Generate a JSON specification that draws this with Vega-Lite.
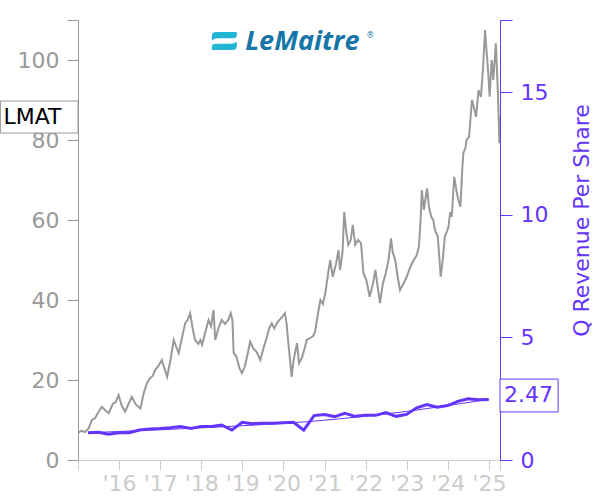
{
  "$schema": "https://vega.github.io/schema/vega-lite/v6.json",
  "width": 422,
  "height": 440,
  "autosize": {"type": "none"},
  "padding": {"left": 78, "top": 20, "right": 100, "bottom": 40},
  "background": "white",
  "config": {
    "view": {"stroke": null},
    "axis": {"grid": false, "labelFont": "DejaVu Sans", "titleFont": "DejaVu Sans", "labelFontSize": 22},
    "text": {"font": "DejaVu Sans"}
  },
  "datasets": {
    "price": [
      {"date": "2015-01-02", "p": 6.8}, {"date": "2015-01-30", "p": 7.3}, {"date": "2015-03-04", "p": 7.0}, {"date": "2015-04-05", "p": 7.9},
      {"date": "2015-05-05", "p": 10.0}, {"date": "2015-06-03", "p": 10.5}, {"date": "2015-07-02", "p": 12.0}, {"date": "2015-07-31", "p": 13.3},
      {"date": "2015-08-29", "p": 12.5}, {"date": "2015-10-01", "p": 11.7}, {"date": "2015-11-06", "p": 14.0}, {"date": "2015-12-02", "p": 14.5},
      {"date": "2015-12-28", "p": 16.2}, {"date": "2016-01-26", "p": 13.5}, {"date": "2016-02-24", "p": 12.1}, {"date": "2016-03-25", "p": 14.0},
      {"date": "2016-04-23", "p": 15.8}, {"date": "2016-05-26", "p": 14.0}, {"date": "2016-06-13", "p": 13.5}, {"date": "2016-07-09", "p": 12.9},
      {"date": "2016-08-07", "p": 16.7}, {"date": "2016-09-05", "p": 19.2}, {"date": "2016-10-04", "p": 20.5}, {"date": "2016-10-26", "p": 21.0},
      {"date": "2016-11-17", "p": 22.5}, {"date": "2016-12-16", "p": 23.5}, {"date": "2017-01-15", "p": 25.0}, {"date": "2017-02-06", "p": 23.0},
      {"date": "2017-03-04", "p": 20.8}, {"date": "2017-04-02", "p": 25.0}, {"date": "2017-05-01", "p": 30.0}, {"date": "2017-05-27", "p": 28.0},
      {"date": "2017-06-14", "p": 26.7}, {"date": "2017-07-13", "p": 30.5}, {"date": "2017-08-11", "p": 34.2}, {"date": "2017-09-02", "p": 35.0},
      {"date": "2017-09-24", "p": 36.7}, {"date": "2017-10-16", "p": 33.0}, {"date": "2017-11-07", "p": 30.0}, {"date": "2017-12-06", "p": 29.0},
      {"date": "2017-12-24", "p": 30.0}, {"date": "2018-01-08", "p": 28.8}, {"date": "2018-02-06", "p": 32.0}, {"date": "2018-03-07", "p": 35.0},
      {"date": "2018-03-29", "p": 33.5}, {"date": "2018-04-20", "p": 37.5}, {"date": "2018-05-05", "p": 30.0}, {"date": "2018-06-03", "p": 33.0},
      {"date": "2018-07-02", "p": 35.0}, {"date": "2018-07-31", "p": 34.0}, {"date": "2018-08-29", "p": 35.0}, {"date": "2018-09-20", "p": 36.7},
      {"date": "2018-10-05", "p": 35.0}, {"date": "2018-10-16", "p": 26.7}, {"date": "2018-11-10", "p": 25.8}, {"date": "2018-12-06", "p": 23.0},
      {"date": "2018-12-28", "p": 21.7}, {"date": "2019-01-23", "p": 23.3}, {"date": "2019-02-21", "p": 27.0}, {"date": "2019-03-11", "p": 29.6},
      {"date": "2019-04-09", "p": 27.9}, {"date": "2019-05-09", "p": 27.0}, {"date": "2019-06-10", "p": 25.0}, {"date": "2019-07-09", "p": 28.0},
      {"date": "2019-08-08", "p": 30.8}, {"date": "2019-08-29", "p": 33.0}, {"date": "2019-09-20", "p": 34.2}, {"date": "2019-10-12", "p": 32.9},
      {"date": "2019-11-10", "p": 34.5}, {"date": "2019-12-13", "p": 35.5}, {"date": "2020-01-15", "p": 36.7}, {"date": "2020-01-30", "p": 34.0},
      {"date": "2020-02-14", "p": 29.2}, {"date": "2020-03-04", "p": 24.0}, {"date": "2020-03-14", "p": 20.8}, {"date": "2020-04-01", "p": 25.0},
      {"date": "2020-05-01", "p": 29.2}, {"date": "2020-05-19", "p": 24.2}, {"date": "2020-06-13", "p": 25.5}, {"date": "2020-07-09", "p": 28.0},
      {"date": "2020-07-27", "p": 30.0}, {"date": "2020-08-26", "p": 30.5}, {"date": "2020-09-21", "p": 31.0}, {"date": "2020-10-09", "p": 32.1},
      {"date": "2020-10-31", "p": 36.0}, {"date": "2020-11-25", "p": 40.0}, {"date": "2020-12-17", "p": 39.0}, {"date": "2021-01-08", "p": 41.7},
      {"date": "2021-02-06", "p": 47.5}, {"date": "2021-02-21", "p": 50.0}, {"date": "2021-03-15", "p": 45.8}, {"date": "2021-04-13", "p": 49.0},
      {"date": "2021-05-05", "p": 52.5}, {"date": "2021-05-19", "p": 47.5}, {"date": "2021-06-10", "p": 52.0}, {"date": "2021-06-25", "p": 62.0},
      {"date": "2021-07-13", "p": 57.0}, {"date": "2021-07-31", "p": 53.8}, {"date": "2021-08-22", "p": 55.0}, {"date": "2021-09-09", "p": 58.8},
      {"date": "2021-10-01", "p": 53.8}, {"date": "2021-10-26", "p": 55.0}, {"date": "2021-11-21", "p": 54.2}, {"date": "2021-12-13", "p": 46.7},
      {"date": "2022-01-08", "p": 45.0}, {"date": "2022-02-06", "p": 40.8}, {"date": "2022-03-07", "p": 44.0}, {"date": "2022-03-29", "p": 47.5},
      {"date": "2022-04-20", "p": 43.0}, {"date": "2022-05-09", "p": 39.2}, {"date": "2022-06-03", "p": 44.0}, {"date": "2022-06-29", "p": 46.7},
      {"date": "2022-07-24", "p": 50.0}, {"date": "2022-08-15", "p": 55.4}, {"date": "2022-08-30", "p": 52.0}, {"date": "2022-09-21", "p": 50.0},
      {"date": "2022-10-12", "p": 46.0}, {"date": "2022-11-03", "p": 42.5}, {"date": "2022-12-02", "p": 44.0}, {"date": "2023-01-02", "p": 45.8},
      {"date": "2023-01-30", "p": 48.0}, {"date": "2023-03-04", "p": 50.0}, {"date": "2023-03-29", "p": 51.0}, {"date": "2023-04-20", "p": 53.3},
      {"date": "2023-05-05", "p": 60.0}, {"date": "2023-05-16", "p": 67.5}, {"date": "2023-06-03", "p": 62.5}, {"date": "2023-06-21", "p": 66.0},
      {"date": "2023-07-02", "p": 67.9}, {"date": "2023-07-20", "p": 63.0}, {"date": "2023-08-08", "p": 60.8}, {"date": "2023-08-26", "p": 60.0},
      {"date": "2023-09-09", "p": 57.5}, {"date": "2023-10-05", "p": 55.8}, {"date": "2023-10-31", "p": 45.8}, {"date": "2023-11-18", "p": 50.0},
      {"date": "2023-12-06", "p": 55.8}, {"date": "2023-12-24", "p": 57.0}, {"date": "2024-01-08", "p": 58.3}, {"date": "2024-01-23", "p": 62.0},
      {"date": "2024-02-06", "p": 60.8}, {"date": "2024-02-28", "p": 70.8}, {"date": "2024-03-21", "p": 67.0}, {"date": "2024-04-05", "p": 65.0},
      {"date": "2024-04-23", "p": 63.3}, {"date": "2024-05-08", "p": 72.0}, {"date": "2024-05-19", "p": 76.7}, {"date": "2024-06-06", "p": 78.0},
      {"date": "2024-06-17", "p": 80.0}, {"date": "2024-07-09", "p": 80.8}, {"date": "2024-08-04", "p": 90.0}, {"date": "2024-08-22", "p": 88.0},
      {"date": "2024-09-09", "p": 85.8}, {"date": "2024-10-01", "p": 92.5}, {"date": "2024-10-23", "p": 90.8}, {"date": "2024-11-10", "p": 98.0},
      {"date": "2024-11-28", "p": 107.5}, {"date": "2024-12-13", "p": 101.7}, {"date": "2024-12-28", "p": 96.0}, {"date": "2025-01-08", "p": 90.8},
      {"date": "2025-01-26", "p": 100.0}, {"date": "2025-02-10", "p": 95.0}, {"date": "2025-03-04", "p": 104.2}, {"date": "2025-03-22", "p": 92.0},
      {"date": "2025-04-05", "p": 79.2}, {"date": "2025-04-10", "p": 85.8}
    ],
    "rev": [
      {"date": "2015-03-31", "v": 1.11}, {"date": "2015-06-30", "v": 1.13}, {"date": "2015-09-30", "v": 1.05}, {"date": "2015-12-31", "v": 1.11},
      {"date": "2016-03-31", "v": 1.11}, {"date": "2016-06-30", "v": 1.22}, {"date": "2016-09-30", "v": 1.26}, {"date": "2016-12-31", "v": 1.28},
      {"date": "2017-03-31", "v": 1.32}, {"date": "2017-06-30", "v": 1.37}, {"date": "2017-09-30", "v": 1.29}, {"date": "2017-12-31", "v": 1.37},
      {"date": "2018-03-31", "v": 1.37}, {"date": "2018-06-30", "v": 1.43}, {"date": "2018-09-30", "v": 1.22}, {"date": "2018-12-31", "v": 1.54},
      {"date": "2019-03-31", "v": 1.48}, {"date": "2019-06-30", "v": 1.50}, {"date": "2019-09-30", "v": 1.50}, {"date": "2019-12-31", "v": 1.52},
      {"date": "2020-03-31", "v": 1.54}, {"date": "2020-06-30", "v": 1.22}, {"date": "2020-09-30", "v": 1.81}, {"date": "2020-12-31", "v": 1.85},
      {"date": "2021-03-31", "v": 1.77}, {"date": "2021-06-30", "v": 1.90}, {"date": "2021-09-30", "v": 1.78}, {"date": "2021-12-31", "v": 1.82},
      {"date": "2022-03-31", "v": 1.82}, {"date": "2022-06-30", "v": 1.93}, {"date": "2022-09-30", "v": 1.78}, {"date": "2022-12-31", "v": 1.86},
      {"date": "2023-03-31", "v": 2.13}, {"date": "2023-06-30", "v": 2.26}, {"date": "2023-09-30", "v": 2.15}, {"date": "2023-12-31", "v": 2.22},
      {"date": "2024-03-31", "v": 2.39}, {"date": "2024-06-30", "v": 2.50}, {"date": "2024-09-30", "v": 2.46}, {"date": "2024-12-31", "v": 2.47}
    ],
    "trend": [
      {"date": "2015-03-31", "v": 1.11}, {"date": "2017-03-31", "v": 1.25}, {"date": "2019-03-31", "v": 1.42},
      {"date": "2020-06-30", "v": 1.55}, {"date": "2021-06-30", "v": 1.70}, {"date": "2022-12-31", "v": 1.98},
      {"date": "2023-12-31", "v": 2.22}, {"date": "2024-12-31", "v": 2.47}
    ],
    "lmat": [{"date": "2013-02-10", "date2": "2015-01-01", "lo": 81.75, "hi": 89.75, "mid": 85.75, "label": "LMAT"}],
    "last": [{"date": "2025-04-10", "date2": "2026-09-09", "lo": 1.96, "hi": 3.30, "mid": 2.63, "label": "2.47"}],
    "logo": [{"date": "2019-01-26", "p": 104.4, "label": "LeMaitre"}],
    "reg": [{"date": "2022-01-07", "p": 106, "label": "®"}],
    "icon": [{"date": "2018-07-25", "p": 104.75}]
  },
  "encoding": {
    "x": {
      "field": "date",
      "type": "temporal",
      "scale": {"type": "utc", "domain": [{"year": 2015, "month": 1, "date": 1, "utc": true}, {"year": 2025, "month": 4, "date": 10, "utc": true}]},
      "axis": {
        "title": null,
        "values": [
          {"year": 2015, "month": 1, "date": 1, "utc": true}, {"year": 2016, "month": 1, "date": 1, "utc": true},
          {"year": 2017, "month": 1, "date": 1, "utc": true}, {"year": 2018, "month": 1, "date": 1, "utc": true},
          {"year": 2019, "month": 1, "date": 1, "utc": true}, {"year": 2020, "month": 1, "date": 1, "utc": true},
          {"year": 2021, "month": 1, "date": 1, "utc": true}, {"year": 2022, "month": 1, "date": 1, "utc": true},
          {"year": 2023, "month": 1, "date": 1, "utc": true}, {"year": 2024, "month": 1, "date": 1, "utc": true},
          {"year": 2025, "month": 1, "date": 1, "utc": true}, {"year": 2025, "month": 4, "date": 10, "utc": true}
        ],
        "labelExpr": "utcyear(datum.value) < 2016 || utcmonth(datum.value) > 0 ? '' : \"'\" + utcFormat(datum.value, '%y')",
        "domainColor": "#cccccc",
        "tickColor": "#cccccc",
        "labelColor": "#cccccc",
        "tickSize": 10,
        "labelPadding": 3,
        "labelOverlap": false,
        "labelFlush": false,
        "labelBound": false
      }
    }
  },
  "layer": [
    {
      "data": {"name": "price"},
      "mark": {"type": "line", "color": "#999999", "strokeWidth": 2, "clip": true},
      "encoding": {
        "y": {
          "field": "p", "type": "quantitative",
          "scale": {"domain": [0, 110], "nice": false, "zero": true},
          "axis": {
            "orient": "left", "title": null,
            "values": [0, 20, 40, 60, 80, 100, 110],
            "labelExpr": "datum.value > 105 ? '' : datum.label",
            "domainColor": "#999999", "tickColor": "#999999", "labelColor": "#999999",
            "tickSize": 11, "labelPadding": 8
          }
        }
      }
    },
    {
      "data": {"name": "rev"},
      "mark": {"type": "line", "color": "#6435ff", "strokeWidth": 3},
      "encoding": {
        "y": {
          "field": "v", "type": "quantitative",
          "scale": {"domain": [0, 17.94], "nice": false},
          "axis": {
            "orient": "right",
            "values": [0, 5, 10, 15, 17.94],
            "labelExpr": "datum.value > 17 ? '' : datum.label",
            "domainColor": "#6435ff", "tickColor": "#6435ff", "labelColor": "#6435ff",
            "tickSize": 12, "labelPadding": 8,
            "title": "Q Revenue Per Share", "titleColor": "#6435ff", "titleFontSize": 22,
            "titleFontWeight": "normal", "titleAngle": 270,
            "titleX": 81, "titleY": 200, "titleAlign": "center", "titleBaseline": "middle"
          }
        }
      }
    },
    {
      "data": {"name": "trend"},
      "mark": {"type": "line", "color": "#6435ff", "strokeWidth": 1, "interpolate": "monotone"},
      "encoding": {
        "y": {"field": "v", "type": "quantitative", "scale": {"domain": [0, 17.94], "nice": false}, "axis": null}
      }
    },
    {
      "data": {"name": "lmat"},
      "mark": {"type": "rect", "fill": "white", "stroke": "#999999", "strokeWidth": 1, "clip": false},
      "encoding": {
        "x2": {"field": "date2"},
        "y": {"field": "lo", "type": "quantitative", "scale": {"domain": [0, 110], "nice": false}, "axis": null},
        "y2": {"field": "hi"}
      }
    },
    {
      "data": {"name": "lmat"},
      "mark": {"type": "text", "align": "left", "baseline": "middle", "dx": 3, "fontSize": 22, "color": "black", "font": "DejaVu Sans"},
      "encoding": {
        "y": {"field": "mid", "type": "quantitative", "scale": {"domain": [0, 110], "nice": false}, "axis": null},
        "text": {"field": "label"}
      }
    },
    {
      "data": {"name": "last"},
      "mark": {"type": "rect", "fill": "white", "stroke": "#6435ff", "strokeWidth": 1, "clip": false},
      "encoding": {
        "x2": {"field": "date2"},
        "y": {"field": "lo", "type": "quantitative", "scale": {"domain": [0, 17.94], "nice": false}, "axis": null},
        "y2": {"field": "hi"}
      }
    },
    {
      "data": {"name": "last"},
      "mark": {"type": "text", "align": "left", "baseline": "middle", "dx": 4, "fontSize": 22, "color": "#6435ff", "font": "DejaVu Sans"},
      "encoding": {
        "y": {"field": "mid", "type": "quantitative", "scale": {"domain": [0, 17.94], "nice": false}, "axis": null},
        "text": {"field": "label"}
      }
    },
    {
      "data": {"name": "icon"},
      "mark": {
        "type": "point", "filled": true, "color": "#22b5d4", "opacity": 1, "size": 625,
        "shape": "M -1 -0.05 L -1 -0.4 Q -1 -0.72 -0.65 -0.72 L 1 -0.72 L 1 -0.45 Q 1 -0.22 0.65 -0.22 L -0.45 -0.22 Q -0.8 -0.22 -1 -0.05 Z M 1 0.05 L 1 0.4 Q 1 0.72 0.65 0.72 L -1 0.72 L -1 0.45 Q -1 0.22 -0.65 0.22 L 0.45 0.22 Q 0.8 0.22 1 0.05 Z"
      },
      "encoding": {
        "y": {"field": "p", "type": "quantitative", "scale": {"domain": [0, 110], "nice": false}, "axis": null}
      }
    },
    {
      "data": {"name": "logo"},
      "mark": {"type": "text", "align": "left", "baseline": "middle", "fontSize": 27, "fontStyle": "italic", "fontWeight": "bold", "font": "Open Sans", "color": "#1776a8"},
      "encoding": {
        "y": {"field": "p", "type": "quantitative", "scale": {"domain": [0, 110], "nice": false}, "axis": null},
        "text": {"field": "label"}
      }
    },
    {
      "data": {"name": "reg"},
      "mark": {"type": "text", "align": "left", "baseline": "middle", "fontSize": 8, "font": "DejaVu Sans", "color": "#1776a8"},
      "encoding": {
        "y": {"field": "p", "type": "quantitative", "scale": {"domain": [0, 110], "nice": false}, "axis": null},
        "text": {"field": "label"}
      }
    }
  ],
  "resolve": {"scale": {"y": "independent"}, "axis": {"y": "independent"}}
}
